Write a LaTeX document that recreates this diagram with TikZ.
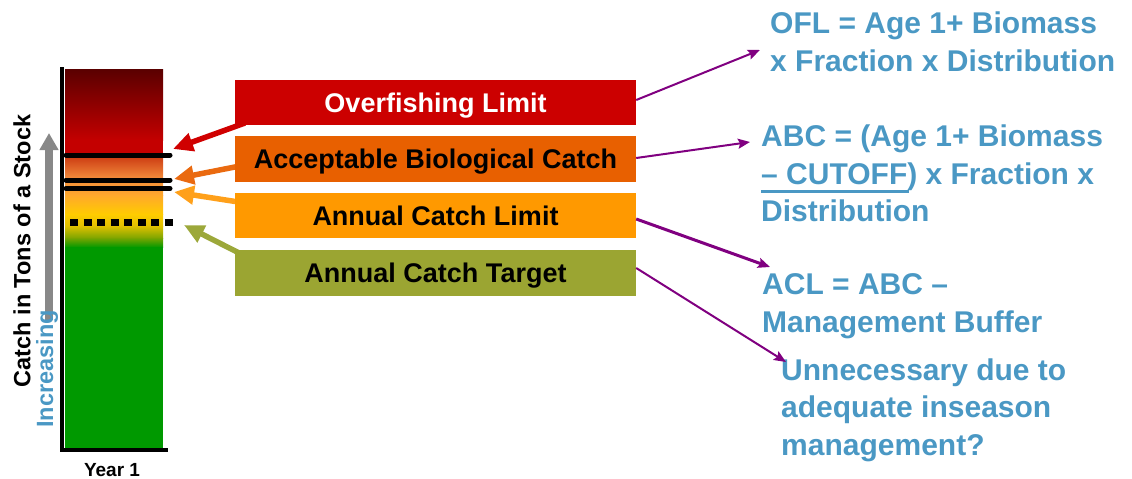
\documentclass[tikz,border=0pt]{standalone}
\usepackage{fontspec}
\setmainfont{Liberation Sans}
\usetikzlibrary{arrows.meta}
\definecolor{oflred}{HTML}{CC0000}
\definecolor{abcorange}{HTML}{E86000}
\definecolor{aclorange}{HTML}{FF9900}
\definecolor{actolive}{HTML}{9BA532}
\definecolor{txtblue}{HTML}{4A98C4}
\definecolor{arrpurple}{HTML}{800080}
\definecolor{dkred}{HTML}{5A0000}
\definecolor{barred}{HTML}{C40000}
\definecolor{barredor}{HTML}{CC3A12}
\definecolor{barorange}{HTML}{F28C3C}
\definecolor{baramber}{HTML}{FFA82C}
\definecolor{baryellow}{HTML}{FFCC00}
\definecolor{bardkyel}{HTML}{E0C000}
\definecolor{barolive}{HTML}{78A400}
\definecolor{bargreen}{HTML}{009900}
\definecolor{arrgray}{HTML}{888888}
\definecolor{ptred}{HTML}{D00000}
\definecolor{ptorange}{HTML}{EA6A10}
\definecolor{ptamber}{HTML}{FFA01A}
\definecolor{ptolive}{HTML}{9CA83A}
\begin{document}
\begin{tikzpicture}[x=1pt,y=-1pt,
  box/.style={minimum width=401pt, minimum height=45.5pt, inner sep=0pt,
    text height=20pt, text depth=1pt, font=\fontsize{27}{32}\selectfont\bfseries},
  eq/.style={anchor=base west, align=left, inner sep=0pt, text=txtblue,
    font=\fontsize{30}{37.5}\selectfont\bfseries},
  level/.style={line width=5pt, line cap=round},
  pointer/.style={line width=5.5pt, -{Triangle[length=20pt,width=18pt]}},
  link/.style={arrpurple, line width=2pt, -{Stealth[length=12pt,width=10pt,inset=2pt]}},
  axislabel/.style={rotate=90, inner sep=0pt, font=\fontsize{23.5}{28}\selectfont\bfseries},
]
\useasboundingbox (0,0) rectangle (1132,479);
% bar with colour bands
\shade[top color=dkred, bottom color=barred] (65,69) rectangle (163,140.5);
\fill[barred] (65,140) rectangle (163,156.5);
\shade[top color=barredor, bottom color=barorange] (65,156) rectangle (163,178.5);
\shade[top color=barorange, bottom color=baramber] (65,178) rectangle (163,195.5);
\shade[top color=baramber, bottom color=baryellow] (65,195) rectangle (163,214.5);
\shade[top color=baryellow, bottom color=bardkyel] (65,214) rectangle (163,226.5);
\shade[top color=bardkyel, bottom color=barolive] (65,226) rectangle (163,238.5);
\shade[top color=barolive, bottom color=bargreen] (65,238) rectangle (163,247.5);
\fill[bargreen] (65,247) rectangle (163,448);
% axes
\draw[line width=4pt] (62,67) -- (62,450) -- (168,450);
% levels
\draw[level] (66,155) -- (170,155);
\draw[level] (66,180) -- (170,180);
\draw[level] (66,188.5) -- (170,188.5);
\draw[line width=7pt, dash pattern=on 8pt off 5.5pt] (70,222) -- (173,222);
% axis labels
\draw[arrgray, line width=8pt, -{Triangle[length=17pt,width=18pt]}] (49,320) -- (49,133);
\node[axislabel] (catch) at (22,251) {Catch in Tons of a Stock};
\node[axislabel, text=txtblue] (incr) at (47,369) {Increasing};
\node[anchor=base, inner sep=0pt, font=\fontsize{19}{22}\selectfont\bfseries] (year) at (112,476) {Year 1};
% pointers from boxes to bar
\coordinate (pofl) at (173,149);
\coordinate (pabc) at (174,179);
\coordinate (pacl) at (174,192);
\coordinate (pact) at (184,225);
\draw[pointer, ptred] (245,123) -- (pofl);
\draw[pointer, ptorange] (245,165) -- (pabc);
\draw[pointer, ptamber] (245,203) -- (pacl);
\draw[pointer, ptolive] (245,256) -- (pact);
% boxes
\node[box, fill=oflred, text=white] (ofl) at (435.5,102.5) {Overfishing Limit};
\node[box, fill=abcorange] (abc) at (435.5,159) {Acceptable Biological Catch};
\node[box, fill=aclorange] (acl) at (435.5,215.5) {Annual Catch Limit};
\node[box, fill=actolive] (act) at (435.5,273) {Annual Catch Target};
% right texts (base anchor = baseline of the last line)
\node[eq] (oflt) at (770,71) {OFL = Age 1+ Biomass\\x Fraction x Distribution};
\node[eq] (abct) at (761,221.5) {ABC = (Age 1+ Biomass\\\makebox[0pt][l]{\rule[-8.5pt]{148pt}{3pt}}– CUTOFF) x Fraction x\\Distribution};
\node[eq] (aclt) at (762,332) {ACL = ABC –\\Management Buffer};
\node[eq] (unt) at (781,455) {Unnecessary due to\\adequate inseason\\management?};
% links
\coordinate (tofl) at (760,50);
\coordinate (tabc) at (750,142);
\coordinate (tacl) at (770,267);
\coordinate (tact) at (786,362);
\draw[link] ([yshift=2.5pt]ofl.east) -- (tofl);
\draw[link] ([yshift=1pt]abc.east) -- (tabc);
\draw[link, line width=3pt] ([yshift=-3.5pt]acl.east) -- (tacl);
\draw[link] ([yshift=5pt]act.east) -- (tact);
\end{tikzpicture}
\end{document}
